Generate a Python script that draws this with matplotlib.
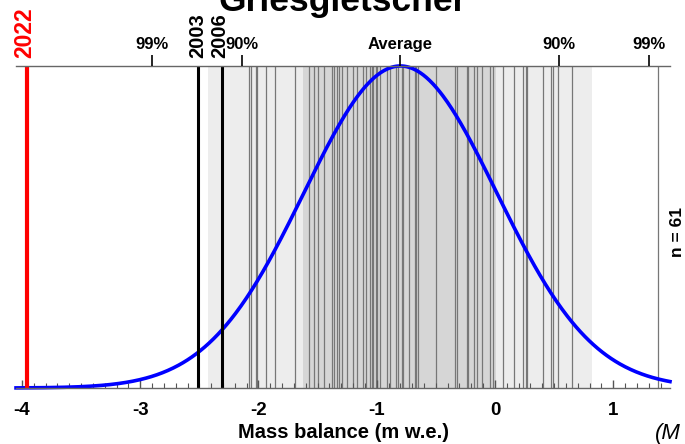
import numpy as np
import matplotlib
matplotlib.use("Agg")
import matplotlib.pyplot as plt
from matplotlib.ticker import MultipleLocator
import matplotlib.transforms as mtransforms

plt.rcParams['font.family'] = ['Liberation Sans', 'DejaVu Sans']
plt.rcParams['font.weight'] = 'bold'

# annual mass balances (m w.e.), grey lines
balances = [-2.08, -2.06, -2.02, -2.01, -1.94, -1.86, -1.69, -1.57, -1.53, -1.50,
            -1.45, -1.38, -1.36, -1.34, -1.32, -1.29, -1.25, -1.20, -1.17, -1.12,
            -1.09, -1.06, -1.04, -1.03, -1.01, -1.00, -0.97, -0.91, -0.89, -0.84,
            -0.82, -0.79, -0.78, -0.73, -0.68, -0.67, -0.65, -0.50, -0.34, -0.32,
            -0.24, -0.23, -0.18, -0.15, -0.11, -0.04, -0.02, 0.07, 0.16, 0.24,
            0.26, 0.27, 0.41, 0.47, 0.49, 0.53, 0.65, 1.38]

# highlighted years
hl_years = ["2003", "2006"]
hl_values = [-2.51, -2.31]
year_2022 = -3.96

# fitted distribution
mean_mb = -0.80
std_mb = 0.815
n_years = 61

# shaded ranges
outer_band = (-2.43, 0.82)
inner_band = (-1.62, 0.01)

pct_labels = ["99%", "90%", "Average", "90%", "99%"]
pct_z = [-2.576, -1.645, 0.0, 1.645, 2.576]

xmin, xmax = -4.05, 1.48

fig = plt.figure(figsize=(6.85, 4.44), dpi=100)
ax = fig.add_axes([0.0234, 0.1261, 0.9547, 0.7253])

ax.axvspan(*outer_band, color='#ededed', lw=0, zorder=0)
ax.axvspan(*inner_band, color='#d6d6d6', lw=0, zorder=0)
for b in balances:
    ax.axvline(b, color='#777777', lw=0.9, zorder=1)

x = np.linspace(xmin, xmax, 600)
pdf = np.exp(-0.5 * ((x - mean_mb) / std_mb) ** 2) / (std_mb * np.sqrt(2 * np.pi))
ax.plot(x, pdf, color='#0000ff', lw=2.6, zorder=3, clip_on=False)
peak = 1 / (std_mb * np.sqrt(2 * np.pi))
ax.set_ylim(0, peak)
ax.set_xlim(xmin, xmax)

for yr, v in zip(hl_years, hl_values):
    ax.axvline(v, color='black', lw=2.2, zorder=4)
ax.axvline(year_2022, color='#ff0000', lw=3.0, zorder=4)

trans = mtransforms.blended_transform_factory(ax.transData, ax.transAxes)
ax.text(hl_values[0], 1.025, hl_years[0], rotation=90, ha='center', va='bottom',
        fontsize=14.5, transform=trans)
ax.text(hl_values[1] - 0.02, 1.025, hl_years[1], rotation=90, ha='center', va='bottom',
        fontsize=14.5, transform=trans)
ax.text(year_2022 - 0.02, 1.025, "2022", rotation=90, ha='center', va='bottom',
        fontsize=16.5, color='#ff0000', transform=trans)

ax.set_yticks([])
ax.xaxis.set_minor_locator(MultipleLocator(0.1))
ax.set_xticks(range(-4, 2))
ax.set_xticklabels([str(t) for t in range(-4, 2)])
ax.tick_params(axis='x', which='major', direction='in', length=6, width=1,
               color='#555555', labelsize=13.5, pad=10, top=False)
ax.tick_params(axis='x', which='minor', direction='in', length=3.5, width=0.8,
               color='#555555', top=True, bottom=True)
for s in ['left', 'right']:
    ax.spines[s].set_visible(False)
for s in ['top', 'bottom']:
    ax.spines[s].set_color('#666666')
    ax.spines[s].set_linewidth(1)
    ax.spines[s].set_zorder(5)

ax.set_xlabel("Mass balance (m w.e.)", fontsize=14.5, fontweight='bold', labelpad=3)

ax2 = ax.twiny()
ax2.set_xlim(xmin, xmax)
ax2.set_xticks([mean_mb + z * std_mb for z in pct_z])
ax2.set_xticklabels(pct_labels)
ax2.tick_params(axis='x', direction='out', length=8, width=1.2, labelsize=12, pad=2)
for s in ax2.spines.values():
    s.set_visible(False)

fig.text(0.5, 1 - 10.5 / 444, "Griesgletscher", ha='center', va='baseline',
         fontsize=25.5)
fig.text(678 / 685, 1 - 232 / 444, "n = " + str(n_years), rotation=90,
         ha='center', va='center', fontsize=12.5)
fig.text(655 / 685, 1 - 433 / 444, "(M", ha='left', va='center',
         fontsize=16, style='italic', weight='normal')

fig.savefig("out.png", dpi=100)
